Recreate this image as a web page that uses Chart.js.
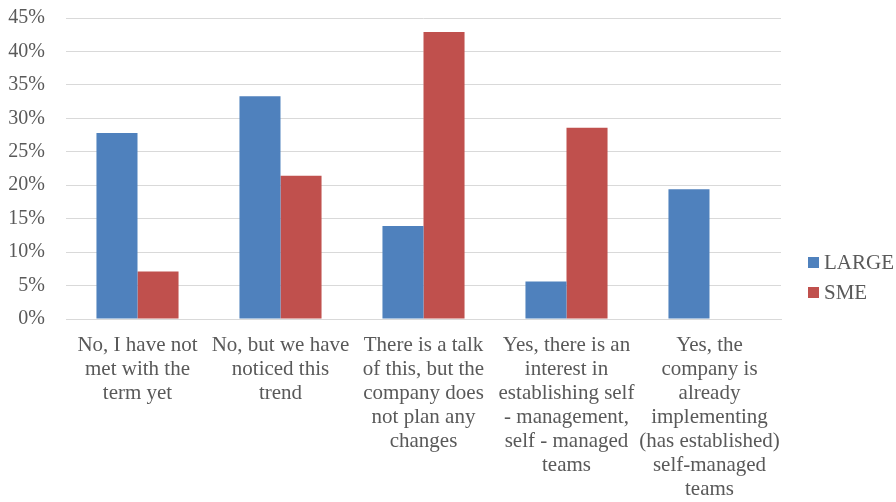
<!DOCTYPE html>
<html>
<head>
<meta charset="utf-8">
<script src="https://cdn.jsdelivr.net/npm/chart.js@4"></script>
<style>
  html, body { margin: 0; padding: 0; background: #fff; }
  #wrap { width: 896px; height: 502px; }
</style>
</head>
<body>
<div id="wrap"><canvas id="chartA" width="896" height="502"></canvas></div>
<script>
const categories = [
    ['No, I have not', 'met with the', 'term yet'],
    ['No, but we have', 'noticed this', 'trend'],
    ['There is a talk', 'of this, but the', 'company does', 'not plan any', 'changes'],
    ['Yes, there is an', 'interest in', 'establishing self', '- management,', 'self - managed', 'teams'],
    ['Yes, the', 'company is', 'already', 'implementing', '(has established)', 'self-managed', 'teams'],
];
const largeValues = [27.8, 33.3, 13.9, 5.6, 19.4];
const smeValues = [7.1, 21.4, 42.9, 28.6, 0];
const yTicks = [0, 5, 10, 15, 20, 25, 30, 35, 40, 45];

const textColor = '#595959';
const serif = "'Liberation Serif', 'Times New Roman', serif";

// legend drawn beside the plot, like the Excel one (small square, tight gap)
const sideLegend = {
    id: 'sideLegend',
    afterDraw(chart) {
        const ctx = chart.ctx;
        const x = chart.chartArea.right + 27;
        let y = chart.height / 2 + 12;
        ctx.save();
        ctx.font = '21px ' + serif;
        ctx.textBaseline = 'middle';
        ctx.fillStyle = textColor;
        chart.data.datasets.forEach(ds => {
            ctx.fillStyle = ds.backgroundColor;
            ctx.fillRect(x, y - 6, 11, 11);
            ctx.fillStyle = textColor;
            ctx.fillText(ds.label, x + 16, y);
            y += 30;
        });
        ctx.restore();
    },
};

const data = {
    labels: categories,
    datasets: [{
        label: 'LARGE',
        backgroundColor: '#4f81bd',
        data: largeValues,
    }, {
        label: 'SME',
        backgroundColor: '#c0504d',
        data: smeValues,
    }],
};

const config = {
    type: 'bar',
    data: data,
    plugins: [sideLegend],
    options: {
        responsive: false,
        animation: false,
        layout: {padding: {top: 18, left: 8, right: 115, bottom: 0}},
        datasets: {bar: {categoryPercentage: 0.574, barPercentage: 1, borderWidth: 0}},
        scales: {
            x: {
                grid: {display: false, drawTicks: false},
                border: {color: '#d9d9d9', width: 1},
                afterFit: (s) => { s.height = 183; s.paddingLeft = 0; s.paddingRight = 0; },
                ticks: {
                    color: textColor,
                    font: {family: serif, size: 21, lineHeight: 24 / 21},
                    padding: 14,
                    maxRotation: 0,
                    autoSkip: false,
                },
            },
            y: {
                min: 0,
                max: 45,
                afterBuildTicks: (axis) => { axis.ticks = yTicks.map(v => ({value: v})); },
                afterFit: (s) => { s.width = 58; s.paddingTop = 0; s.paddingBottom = 0; },
                grid: {color: '#d9d9d9', drawTicks: false},
                border: {display: false},
                ticks: {
                    color: textColor,
                    font: {family: serif, size: 20},
                    padding: 21,
                    callback: (v) => v + '%',
                },
            },
        },
        plugins: {
            legend: {display: false},
            tooltip: {enabled: false},
        },
    },
};
const chartEle = document.getElementById('chartA').getContext('2d');
const chartA = new Chart(chartEle, config);
</script>
</body>
</html>
